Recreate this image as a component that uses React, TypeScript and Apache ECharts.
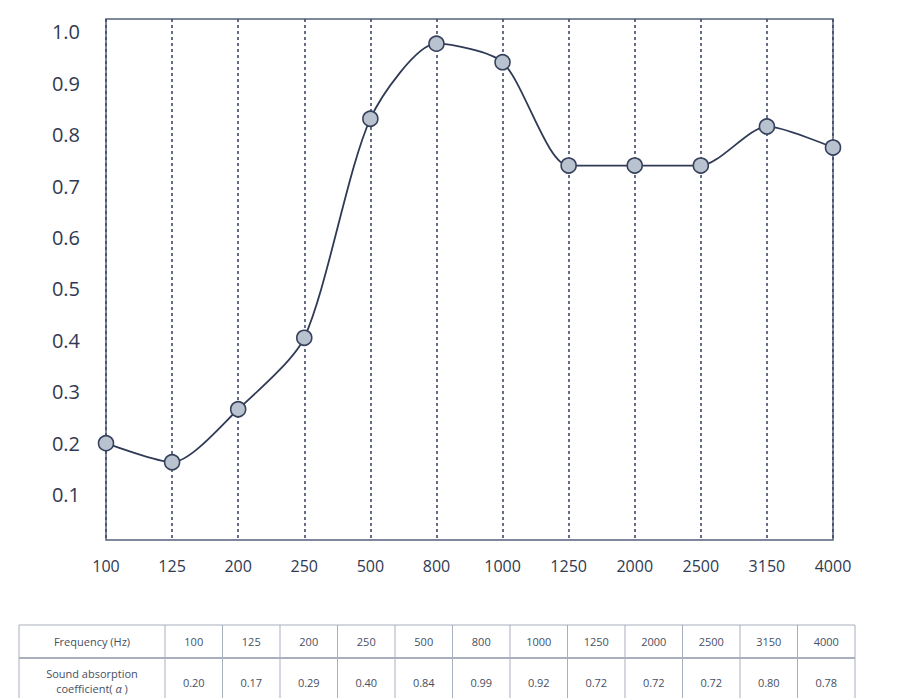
import React, { useEffect, useRef } from "react";
import * as echarts from "echarts";

// ---- data ----
const frequencies = ["100", "125", "200", "250", "500", "800", "1000", "1250", "2000", "2500", "3150", "4000"];
// values as plotted on the curve
const plottedAlpha = [0.2, 0.163, 0.266, 0.405, 0.831, 0.977, 0.941, 0.74, 0.74, 0.74, 0.816, 0.775];
// values printed in the table below the chart
const tableAlpha = ["0.20", "0.17", "0.29", "0.40", "0.84", "0.99", "0.92", "0.72", "0.72", "0.72", "0.80", "0.78"];
const yTicks = [0.1, 0.2, 0.3, 0.4, 0.5, 0.6, 0.7, 0.8, 0.9, 1.0];
const headerLabel = "Frequency (Hz)";
const rowLabelLine1 = "Sound absorption";
const rowLabelLine2 = "coefficient( ";

const FONT = "'Open Sans', 'DejaVu Sans', sans-serif";

function buildTable(): any[] {
  const els: any[] = [];
  const left = 19;
  const firstW = 146;
  const right = 855;
  const colW = (right - left - firstW) / frequencies.length;
  const top = 625;
  const mid = 658;
  const bottom = 706;
  const lineColor = "#a9b0bd";
  const textColor = "#465064";

  els.push({ type: "line", shape: { x1: left, y1: top, x2: right, y2: top }, style: { stroke: lineColor, lineWidth: 1 } });
  els.push({ type: "line", shape: { x1: left, y1: mid, x2: right, y2: mid }, style: { stroke: "#8d95a6", lineWidth: 1.6 } });
  els.push({ type: "line", shape: { x1: left, y1: bottom, x2: right, y2: bottom }, style: { stroke: lineColor, lineWidth: 1 } });
  const xs = [left, left + firstW];
  for (let i = 1; i <= frequencies.length; i++) xs.push(left + firstW + colW * i);
  xs.forEach((x) => {
    els.push({ type: "line", shape: { x1: x, y1: top, x2: x, y2: bottom }, style: { stroke: lineColor, lineWidth: 1 } });
  });
  els.push({
    type: "text",
    x: left + firstW / 2,
    y: (top + mid) / 2,
    style: { text: headerLabel, fill: textColor, font: `11px ${FONT}`, align: "center", verticalAlign: "middle" },
  });
  els.push({
    type: "text",
    x: left + firstW / 2,
    y: 681,
    style: {
      text: `${rowLabelLine1}\n${rowLabelLine2}{a|α} )`,
      fill: textColor,
      font: `11px ${FONT}`,
      align: "center",
      verticalAlign: "middle",
      lineHeight: 15,
      rich: { a: { fontStyle: "italic", fontSize: 11, fill: textColor, fontFamily: FONT } },
    },
  });
  frequencies.forEach((f, i) => {
    const cx = left + firstW + colW * (i + 0.5);
    els.push({
      type: "text",
      x: cx,
      y: (top + mid) / 2,
      style: { text: f, fill: textColor, font: `11px ${FONT}`, align: "center", verticalAlign: "middle" },
    });
    els.push({
      type: "text",
      x: cx,
      y: 682,
      style: { text: tableAlpha[i], fill: textColor, font: `11px ${FONT}`, align: "center", verticalAlign: "middle" },
    });
  });
  return els;
}

export default function App() {
  const ref = useRef<HTMLDivElement>(null);
  useEffect(() => {
    if (!ref.current) return;
    const chart = echarts.init(ref.current, undefined, { renderer: "svg" });
    chart.setOption({
      animation: false,
      backgroundColor: "#ffffff",
      grid: {
        left: 106,
        top: 19,
        right: 65,
        bottom: 158,
        show: true,
        borderColor: "#56607a",
        borderWidth: 1.5,
        backgroundColor: "transparent",
      },
      xAxis: {
        type: "category",
        data: frequencies,
        boundaryGap: false,
        axisLine: { show: false },
        axisTick: { show: false },
        axisLabel: {
          color: "#2f3a52",
          fontSize: 16,
          fontFamily: FONT,
          margin: 18,
          interval: 0,
        },
        splitLine: {
          show: true,
          interval: 0,
          lineStyle: { color: "#3f4a66", width: 1.6, type: [3, 3] },
        },
      },
      yAxis: {
        type: "value",
        min: 0.0117,
        max: 1.025,
        axisLine: { show: false },
        axisTick: { show: false },
        splitLine: { show: false },
        axisLabel: {
          customValues: yTicks,
          formatter: (v: number) => v.toFixed(1),
          color: "#2f3a52",
          fontSize: 20,
          fontFamily: FONT,
          margin: 26,
        },
      },
      series: [
        {
          type: "line",
          data: plottedAlpha,
          smooth: 0.25,
          symbol: "circle",
          symbolSize: 15,
          lineStyle: { color: "#2f3a56", width: 1.8 },
          itemStyle: { color: "#b9c2cf", borderColor: "#36415c", borderWidth: 1.6 },
          z: 5,
        },
      ],
      graphic: buildTable(),
    });
    return () => chart.dispose();
  }, []);
  return (
    <div
      ref={ref}
      style={{ position: "absolute", left: 0, top: 0, width: 898, height: 698 }}
    />
  );
}
